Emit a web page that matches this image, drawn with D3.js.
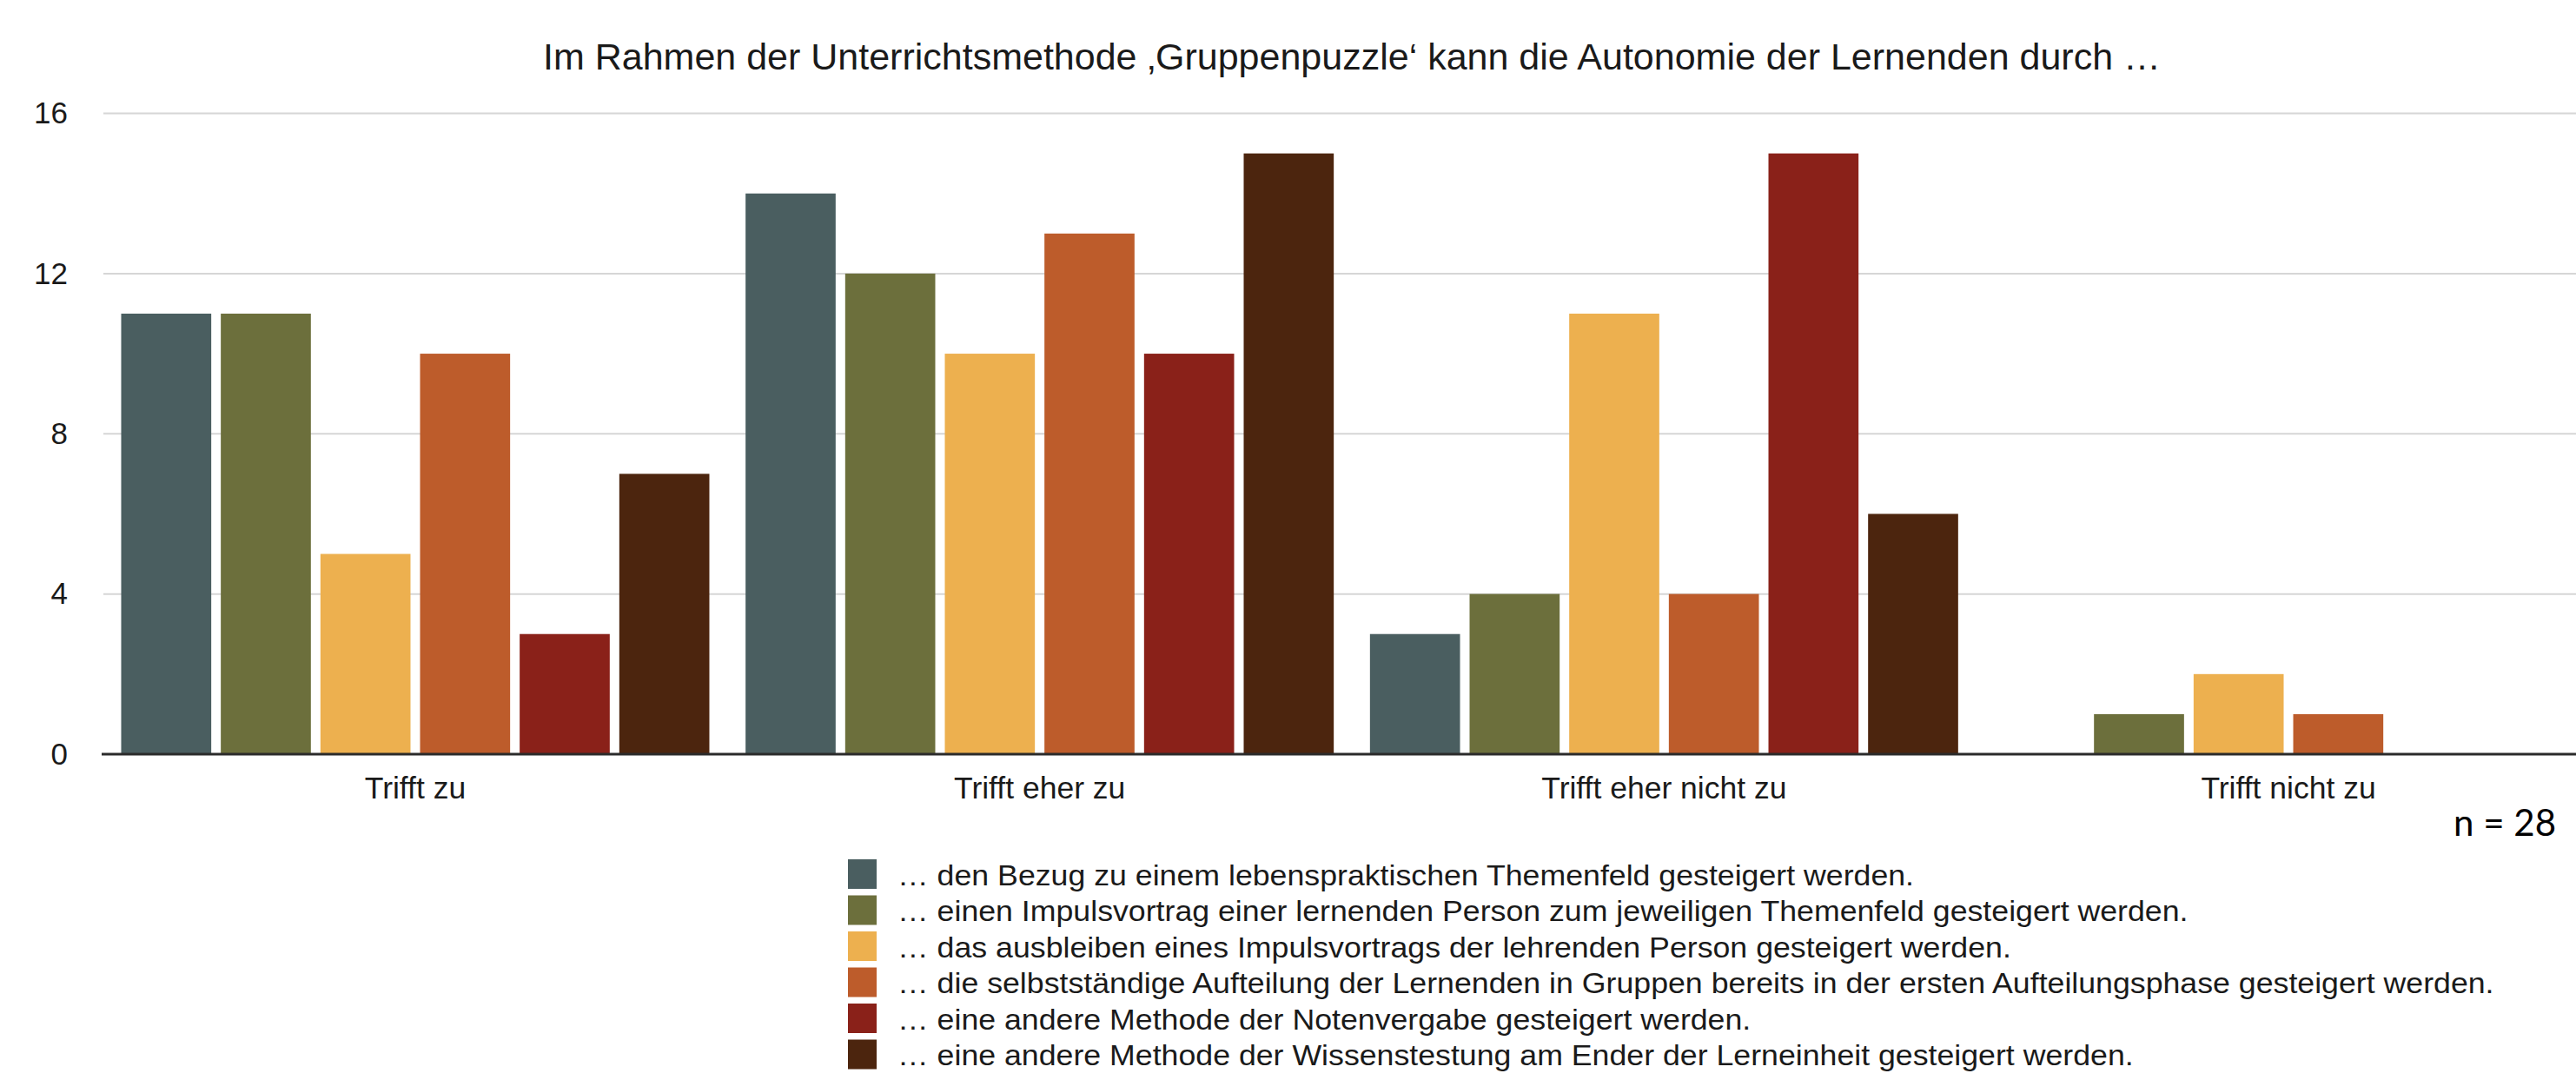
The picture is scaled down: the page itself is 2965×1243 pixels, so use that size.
<!DOCTYPE html>
<html>
<head>
<meta charset="utf-8">
<script src="https://cdn.jsdelivr.net/npm/d3@7"></script>
<style>
  html, body { margin: 0; padding: 0; background: #ffffff; }
  svg { display: block; }
</style>
</head>
<body>
<svg id="chart" width="2965" height="1243"></svg>
<script>
const title = "Im Rahmen der Unterrichtsmethode \u201AGruppenpuzzle\u2018 kann die Autonomie der Lernenden durch \u2026";
const categories = ["Trifft zu", "Trifft eher zu", "Trifft eher nicht zu", "Trifft nicht zu"];
const seriesNames = [
  "\u2026 den Bezug zu einem lebenspraktischen Themenfeld gesteigert werden.",
  "\u2026 einen Impulsvortrag einer lernenden Person zum jeweiligen Themenfeld gesteigert werden.",
  "\u2026 das ausbleiben eines Impulsvortrags der lehrenden Person gesteigert werden.",
  "\u2026 die selbstst\u00E4ndige Aufteilung der Lernenden in Gruppen bereits in der ersten Aufteilungsphase gesteigert werden.",
  "\u2026 eine andere Methode der Notenvergabe gesteigert werden.",
  "\u2026 eine andere Methode der Wissenstestung am Ender der Lerneinheit gesteigert werden."
];
const seriesColors = ["#4a5e60", "#6c6f3c", "#edb04f", "#bd5c2b", "#8a2119", "#4c250e"];
// values per series, in category order
const s1 = [11, 14, 3, 0];
const s2 = [11, 12, 4, 1];
const s3 = [5, 10, 11, 2];
const s4 = [10, 13, 4, 1];
const s5 = [3, 10, 15, 0];
const s6 = [7, 15, 6, 0];
const seriesValues = [s1, s2, s3, s4, s5, s6];
const yTicks = [0, 4, 8, 12, 16];
const sampleNote = "n = 28";

const svg = d3.select("#chart");
svg.append("rect").attr("width", 2965).attr("height", 1243).attr("fill", "#ffffff");

const plotLeft = 119, plotRight = 2993, plotTop = 130.5, plotBottom = 868;

const x0 = d3.scaleBand().domain(categories).range([plotLeft, plotRight])
  .paddingInner(0.058).paddingOuter(0.0285);
const x1 = d3.scaleBand().domain(d3.range(seriesNames.length)).range([0, x0.bandwidth()])
  .paddingInner(0.096).paddingOuter(0);
const y = d3.scaleLinear().domain([0, 16]).range([plotBottom, plotTop]);

// gridlines
svg.append("g").selectAll("line").data(yTicks.filter(d => d > 0)).join("line")
  .attr("x1", plotLeft).attr("x2", 2965)
  .attr("y1", d => y(d)).attr("y2", d => y(d))
  .attr("stroke", "#d6d6d6").attr("stroke-width", 2);

// title
svg.append("text")
  .attr("x", (plotLeft + plotRight) / 2).attr("y", 80)
  .attr("text-anchor", "middle")
  .style("font-family", "'Liberation Sans', Arial, sans-serif")
  .style("font-size", "43px").attr("fill", "#1a1a1a")
  .text(title);

// bars
const groups = svg.append("g").selectAll("g").data(categories).join("g")
  .attr("transform", d => `translate(${x0(d)},0)`);
groups.selectAll("rect")
  .data((c, ci) => seriesValues.map((vals, si) => ({si, v: vals[ci]})))
  .join("rect")
  .attr("x", d => x1(d.si))
  .attr("width", x1.bandwidth())
  .attr("y", d => y(d.v))
  .attr("height", d => y(0) - y(d.v))
  .attr("fill", d => seriesColors[d.si]);

// y axis labels
const yAxis = svg.append("g").attr("transform", `translate(${plotLeft},0)`)
  .call(d3.axisLeft(y).tickValues(yTicks).tickFormat(d3.format("d")).tickSize(0).tickPadding(41));
yAxis.select(".domain").remove();
yAxis.selectAll("text")
  .style("font-family", "'Liberation Sans', Arial, sans-serif")
  .style("font-size", "35px").attr("fill", "#1a1a1a");

// x axis
const xAxis = svg.append("g").attr("transform", `translate(0,${plotBottom})`)
  .call(d3.axisBottom(x0).tickSize(0).tickPadding(26));
xAxis.select(".domain").remove();
xAxis.selectAll("text")
  .style("font-family", "'Liberation Sans', Arial, sans-serif")
  .style("font-size", "35.5px").attr("fill", "#1a1a1a");

// baseline
svg.append("line")
  .attr("x1", plotLeft - 2).attr("x2", 2965)
  .attr("y1", y(0)).attr("y2", y(0))
  .attr("stroke", "#2b2b2b").attr("stroke-width", 3);

// n note
svg.append("text")
  .attr("x", 2942).attr("y", 962).attr("text-anchor", "end")
  .style("font-family", "Lato, 'Open Sans', sans-serif")
  .style("font-size", "42px").attr("fill", "#000")
  .text(sampleNote);

// legend
const legend = svg.append("g").attr("transform", "translate(976,989)");
const rows = legend.selectAll("g").data(seriesNames).join("g")
  .attr("transform", (d, i) => `translate(0,${i * 41.5})`);
rows.append("rect").attr("width", 33).attr("height", 34)
  .attr("fill", (d, i) => seriesColors[i]);
rows.append("text")
  .attr("transform", "translate(57,18) scale(1,0.92)")
  .attr("dy", "0.35em")
  .style("font-family", "'Liberation Sans', Arial, sans-serif")
  .style("font-size", "35.7px").attr("fill", "#1a1a1a")
  .text(d => d);
</script>
</body>
</html>
